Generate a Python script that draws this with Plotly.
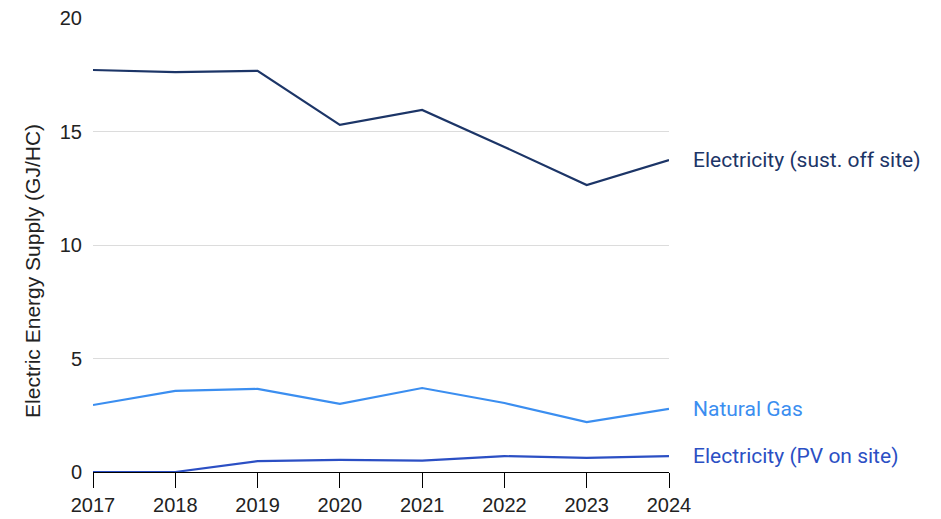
import plotly.graph_objects as go

years = [2017, 2018, 2019, 2020, 2021, 2022, 2023, 2024]
elec_offsite = [17.71, 17.62, 17.67, 15.29, 15.95, 14.32, 12.64, 13.74]
natural_gas = [2.95, 3.57, 3.66, 3.0, 3.7, 3.04, 2.2, 2.78]
elec_pv = [0.0, 0.0, 0.48, 0.53, 0.5, 0.7, 0.62, 0.7]

series = [
    ("Electricity (sust. off site)", elec_offsite, "#1c3567"),
    ("Natural Gas", natural_gas, "#3b8ef0"),
    ("Electricity (PV on site)", elec_pv, "#2b4fc4"),
]

label_font = "Roboto, Arial, sans-serif"
axis_font = "Liberation Sans, Arial, sans-serif"
fig = go.Figure()
for name, vals, color in series:
    fig.add_trace(go.Scatter(x=years, y=vals, mode="lines", name=name,
                             line=dict(color=color, width=2.2), showlegend=False))
    fig.add_annotation(x=years[-1], y=vals[-1], xref="x", yref="y", text=name,
                       showarrow=False, xanchor="left", yanchor="middle", xshift=22,
                       font=dict(family=label_font, size=21, color=color))

fig.add_annotation(x=-0.104, y=0.443, xref="paper", yref="paper",
                   text="Electric Energy Supply (GJ/HC)", textangle=-90,
                   showarrow=False, xanchor="center", yanchor="middle",
                   font=dict(family=axis_font, size=21, color="#222222"))

fig.update_layout(
    width=941, height=519,
    margin=dict(l=93, r=272, t=18, b=47, autoexpand=False),
    plot_bgcolor="white", paper_bgcolor="white",
    font=dict(family=axis_font, size=18, color="#222222"),
)
fig.update_xaxes(range=[2017, 2024], tickmode="array", tickvals=years,
                 ticktext=[str(y) for y in years], showgrid=False, automargin=False,
                 showline=True, linecolor="black", linewidth=1,
                 ticks="outside", ticklen=15, tickcolor="black",
                 tickfont=dict(family=axis_font, size=20, color="#222222"), zeroline=False)
fig.update_yaxes(range=[0, 20], tickvals=[0, 5, 10, 15, 20], showgrid=True,
                 gridcolor="#dcdcdc", gridwidth=1, zeroline=False, showline=False,
                 ticks="", ticklabelstandoff=10, automargin=False,
                 tickfont=dict(family=axis_font, size=20, color="#222222"))

fig.write_html("out.html")
